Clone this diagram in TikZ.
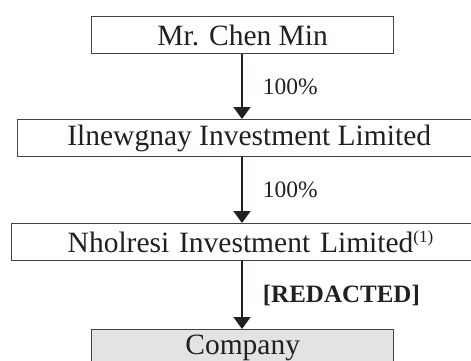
\documentclass[tikz,border=0pt]{standalone}
\usepackage{fontspec}
\setmainfont{Liberation Serif}
\usetikzlibrary{arrows.meta}
\definecolor{ink}{HTML}{231F20}
\definecolor{boxgray}{HTML}{E2E3E4}
\tikzset{
  ent/.style={draw=ink!85, line width=1.4pt, rectangle, inner sep=0pt, text=ink,
    font=\fontsize{29.5}{32}\selectfont, minimum height=37pt, anchor=north west},
  own/.style={draw=ink, line width=1.8pt, -{Triangle[length=12pt,width=17pt]}},
  pct/.style={text=ink, font=\fontsize{23.5}{27}\selectfont, anchor=west, inner sep=0pt},
}
\begin{document}
\begin{tikzpicture}[x=1pt,y=-1pt]
\useasboundingbox (0,0) rectangle (471,361);
\clip (0,0) rectangle (471,361);
\node[ent, minimum width=302pt] (chen) at (91,16) {Mr. Chen Min};
\node[ent, minimum width=463pt] (iln) at (17,119) {Ilnewgnay Investment Limited};
\node[ent, minimum width=470pt, text width=440pt, align=left] (nho) at (11,223)
  {\hspace*{41pt}Nholresi Investment Limited\raisebox{10pt}{\fontsize{17}{19}\selectfont(1)}};
\node[ent, minimum width=302pt, fill=boxgray] (co) at (91,329) {Company};
\draw[own] (chen.south -| 242,0) -- (iln.north -| 242,0)
  node[pct, midway, xshift=20pt] {100\%};
\draw[own] (iln.south -| 242,0) -- (nho.north -| 242,0)
  node[pct, midway, xshift=20pt] {100\%};
\draw[own] (nho.south -| 242,0) -- (co.north -| 242,0)
  node[pct, midway, xshift=20pt, font=\fontsize{25}{28}\selectfont\bfseries] {[REDACTED]};
\end{tikzpicture}
\end{document}
